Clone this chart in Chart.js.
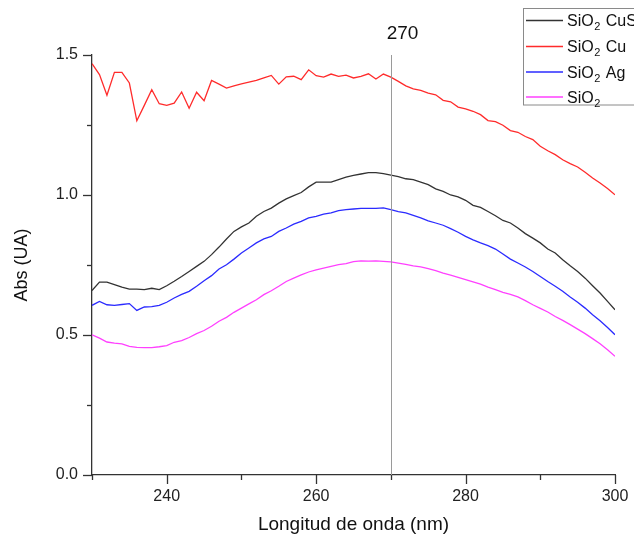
<!DOCTYPE html>
<html><head><meta charset="utf-8">
<script src="https://cdn.jsdelivr.net/npm/chart.js@4"></script>
<style>html,body{margin:0;padding:0;background:#fff;overflow:hidden}#wrap{width:634px;height:538px;position:relative}</style>
</head><body><div id="wrap"><canvas id="c" width="634" height="538"></canvas></div>
<script>
const wavelengths = [230,231,232,233,234,235,236,237,238,239,240,241,242,243,244,245,246,247,248,249,250,251,252,253,254,255,256,257,258,259,260,261,262,263,264,265,266,267,268,269,270,271,272,273,274,275,276,277,278,279,280,281,282,283,284,285,286,287,288,289,290,291,292,293,294,295,296,297,298,299,300];
const seriesLabels = ['SiO₂ CuS','SiO₂ Cu','SiO₂ Ag','SiO₂'];
const sio2CuS = [0.659,0.689,0.689,0.680,0.671,0.664,0.664,0.662,0.667,0.662,
0.676,0.692,0.709,0.727,0.745,0.763,0.787,0.814,0.843,0.870,
0.886,0.900,0.924,0.941,0.953,0.971,0.986,0.998,1.009,1.029,
1.046,1.046,1.046,1.055,1.064,1.070,1.075,1.080,1.080,1.076,
1.071,1.066,1.058,1.055,1.046,1.037,1.022,1.013,1.000,0.993,
0.981,0.963,0.956,0.941,0.926,0.909,0.900,0.882,0.862,0.846,
0.829,0.807,0.793,0.769,0.747,0.727,0.703,0.676,0.650,0.620,
0.590];
const sio2Cu = [1.469,1.430,1.356,1.438,1.438,1.400,1.265,1.320,1.376,1.326,
1.320,1.328,1.368,1.310,1.367,1.337,1.409,1.396,1.382,1.390,
1.397,1.403,1.409,1.418,1.427,1.396,1.422,1.424,1.412,1.447,
1.426,1.421,1.432,1.424,1.428,1.418,1.424,1.433,1.414,1.432,
1.421,1.406,1.390,1.379,1.374,1.364,1.358,1.338,1.333,1.314,
1.308,1.299,1.287,1.266,1.262,1.249,1.230,1.224,1.209,1.198,
1.174,1.158,1.144,1.126,1.112,1.100,1.081,1.061,1.043,1.023,
1.001];
const sio2Ag = [0.606,0.620,0.608,0.606,0.609,0.612,0.588,0.600,0.601,0.606,
0.617,0.632,0.645,0.656,0.674,0.694,0.712,0.736,0.751,0.771,
0.793,0.811,0.829,0.843,0.852,0.870,0.882,0.896,0.906,0.918,
0.924,0.932,0.936,0.944,0.948,0.950,0.952,0.952,0.952,0.954,
0.948,0.941,0.936,0.927,0.918,0.908,0.900,0.892,0.880,0.867,
0.852,0.840,0.829,0.819,0.807,0.789,0.771,0.757,0.743,0.727,
0.709,0.691,0.674,0.656,0.636,0.617,0.596,0.572,0.551,0.527,
0.501];
const sio2 = [0.501,0.489,0.475,0.471,0.468,0.459,0.456,0.455,0.455,0.458,
0.462,0.474,0.480,0.491,0.505,0.516,0.531,0.549,0.563,0.581,
0.596,0.611,0.626,0.644,0.658,0.674,0.691,0.703,0.715,0.725,
0.733,0.739,0.745,0.751,0.755,0.762,0.765,0.764,0.765,0.763,
0.761,0.757,0.752,0.747,0.743,0.737,0.730,0.721,0.714,0.706,
0.698,0.690,0.682,0.671,0.662,0.652,0.645,0.636,0.623,0.608,
0.595,0.582,0.566,0.552,0.537,0.521,0.505,0.487,0.469,0.447,
0.424];
const markerValue = 270;
const markerLabel = '270';
const xTitle = 'Longitud de onda (nm)';
const yTitle = 'Abs (UA)';

const FONT = "Arial, 'Liberation Sans', sans-serif";
const colors = ['#333333','#ff2b2b','#2b2bff','#ff40ff'];
const allSeries = [sio2CuS, sio2Cu, sio2Ag, sio2];
const toPts = arr => wavelengths.map((w,i)=>({x:w,y:arr[i]}));

const extrasPlugin = {
  id:'extras',
  afterDraw(chart){
    const {ctx, chartArea:a, scales:{x,y}} = chart;
    ctx.save();
    ctx.strokeStyle = '#333'; ctx.lineWidth = 1.3;
    x.ticks.forEach(t=>{
      const px = Math.round(x.getPixelForValue(t.value))+0.5;
      const len = t.label ? 9 : 5;
      ctx.beginPath(); ctx.moveTo(px,a.bottom); ctx.lineTo(px,a.bottom+len); ctx.stroke();
    });
    y.ticks.forEach(t=>{
      const py = Math.round(y.getPixelForValue(t.value))+0.5;
      const len = t.label ? 9 : 5;
      ctx.beginPath(); ctx.moveTo(a.left,py); ctx.lineTo(a.left-len,py); ctx.stroke();
    });
    const mx = Math.round(x.getPixelForValue(markerValue))+0.5;
    ctx.strokeStyle = '#9a9a9a'; ctx.lineWidth = 1;
    ctx.beginPath(); ctx.moveTo(mx,a.top); ctx.lineTo(mx,a.bottom); ctx.stroke();
    ctx.fillStyle = '#111'; ctx.font = '19px '+FONT; ctx.textAlign='center'; ctx.textBaseline='middle';
    ctx.fillText(markerLabel, mx+11, 34);
    ctx.strokeStyle = '#8a8a8a'; ctx.lineWidth = 1;
    ctx.strokeRect(523.5, 8.5, 140, 96.5);
    const rows = [20, 46, 71.5, 96.5];
    chart.data.datasets.forEach((ds,i)=>{
      const ry = rows[i];
      ctx.strokeStyle = ds.borderColor; ctx.lineWidth = 1.3;
      ctx.beginPath(); ctx.moveTo(526, ry+0.5); ctx.lineTo(563, ry+0.5); ctx.stroke();
      ctx.fillStyle = '#111'; ctx.textAlign='left'; ctx.textBaseline='alphabetic';
      let tx = 567;
      const base = ry + 6;
      const parts = ds.label.split('₂');
      ctx.font = '16px '+FONT;
      ctx.fillText(parts[0], tx, base); tx += ctx.measureText(parts[0]).width;
      ctx.font = '11px '+FONT;
      ctx.fillText('2', tx+0.5, base+4); tx += ctx.measureText('2').width + 1.5;
      ctx.font = '16px '+FONT;
      if (parts[1]) ctx.fillText(parts[1], tx, base);
    });
    ctx.restore();
  }
};

new Chart(document.getElementById('c'), {
  type:'line',
  data:{ datasets: seriesLabels.map((lab,i)=>({
    label: lab, data: toPts(allSeries[i]), borderColor: colors[i], backgroundColor: colors[i],
    borderWidth: 1.3, pointRadius: 0, tension: 0, fill:false
  }))},
  options:{
    responsive:false, animation:false, devicePixelRatio:1,
    layout:{padding:{top:55,right:19,left:0,bottom:0}},
    plugins:{legend:{display:false}, tooltip:{enabled:false}},
    scales:{
      x:{ type:'linear', min:230, max:300,
        afterFit(s){ s.height = 63; s.paddingRight = 0; s.paddingLeft = 0; },
        grid:{display:false, drawTicks:false},
        border:{display:true, color:'#333', width:1.3},
        ticks:{ stepSize:10, padding:12, color:'#222', font:{size:16, family:FONT}, maxRotation:0, autoSkip:false,
          callback:v=> (v%20===0 ? String(v) : '') },
        title:{display:true, text:xTitle, color:'#111', font:{size:19, family:FONT}, padding:{top:0,bottom:2}}
      },
      y:{ min:0, max:1.5,
        afterFit(s){ s.width = 92; s.paddingTop = 0; s.paddingBottom = 0; },
        grid:{display:false, drawTicks:false},
        border:{display:true, color:'#333', width:1.3},
        ticks:{ stepSize:0.25, padding:14, color:'#222', font:{size:16, family:FONT}, autoSkip:false,
          callback:v=> (Math.abs(v*2-Math.round(v*2))<1e-9 ? v.toFixed(1) : '') },
        title:{display:true, text:yTitle, color:'#111', font:{size:18, family:FONT}, padding:{top:11,bottom:0}}
      }
    }
  },
  plugins:[extrasPlugin]
});
</script></body></html>
